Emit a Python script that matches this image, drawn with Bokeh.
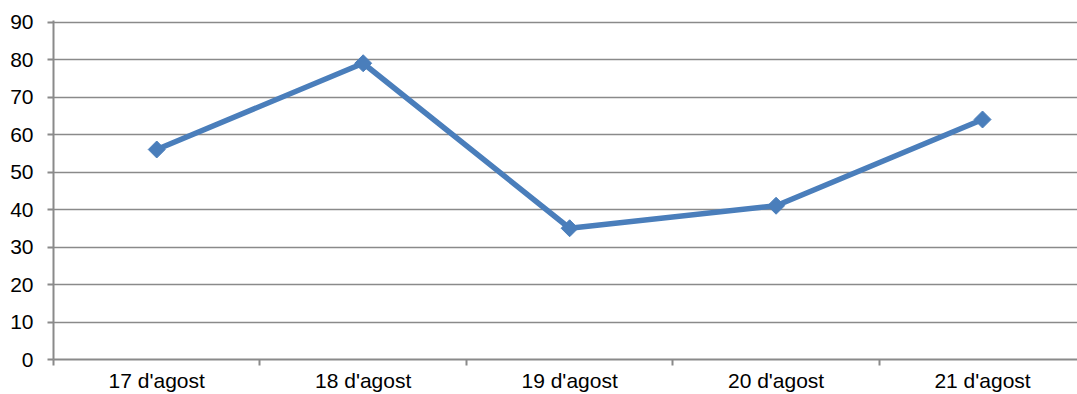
import math

from bokeh.embed import file_html
from bokeh.models import ColumnDataSource, FixedTicker, Range1d
from bokeh.plotting import figure
from bokeh.resources import INLINE

# Daily values, one per day
days = ["17 d'agost", "18 d'agost", "19 d'agost", "20 d'agost", "21 d'agost"]
values = [56, 79, 35, 41, 64]
y_ticks = [0, 10, 20, 30, 40, 50, 60, 70, 80, 90]

LINE_BLUE = "#4a7ebb"
GRID_GREY = "#8a8a8a"
FONT = "Liberation Sans"

# each day occupies one unit; points sit in the middle of their slot
xs = [i + 0.5 for i in range(len(days))]
source = ColumnDataSource(data=dict(x=xs, y=values, day=days))

p = figure(
    width=1077,
    height=394,
    output_backend="svg",
    toolbar_location=None,
    x_range=Range1d(0, 4.96),
    y_range=Range1d(0, 90.4),
    min_border_left=53,
    min_border_right=0,
    min_border_top=20,
    min_border_bottom=35,
)
p.outline_line_color = None
p.background_fill_color = "white"
p.border_fill_color = "white"

# x axis: labels at slot centres, small ticks on slot boundaries
xa = p.xaxis[0]
xa.ticker = FixedTicker(ticks=xs, minor_ticks=list(range(len(days) + 1)))
xa.major_label_overrides = {x: d for x, d in zip(xs, days)}
xa.major_tick_out = 0
xa.major_tick_in = 0
xa.minor_tick_out = 6
xa.minor_tick_in = 0
xa.minor_tick_line_color = GRID_GREY
xa.minor_tick_line_width = 2
xa.axis_line_color = GRID_GREY
xa.axis_line_width = 2
xa.major_label_standoff = 3
xa.major_label_text_font = FONT
xa.major_label_text_font_size = "21px"
xa.major_label_text_color = "#000000"

# y axis
ya = p.yaxis[0]
ya.ticker = FixedTicker(ticks=y_ticks)
ya.major_tick_out = 6
ya.major_tick_in = 0
ya.major_tick_line_color = GRID_GREY
ya.major_tick_line_width = 2
ya.minor_tick_line_color = None
ya.axis_line_color = GRID_GREY
ya.axis_line_width = 2
ya.major_label_standoff = 14
ya.major_label_text_font = FONT
ya.major_label_text_font_size = "21px"
ya.major_label_text_color = "#000000"

p.xgrid.grid_line_color = None
p.ygrid.ticker = FixedTicker(ticks=y_ticks)
p.ygrid.grid_line_color = GRID_GREY
p.ygrid.grid_line_width = 1.5

p.line("x", "y", source=source, line_color=LINE_BLUE, line_width=5.5,
       line_join="round")
p.scatter("x", "y", source=source, marker="square", size=12,
          angle=math.pi / 4, fill_color=LINE_BLUE, line_color=LINE_BLUE)

open("out.html", "w").write(file_html(p, INLINE))
